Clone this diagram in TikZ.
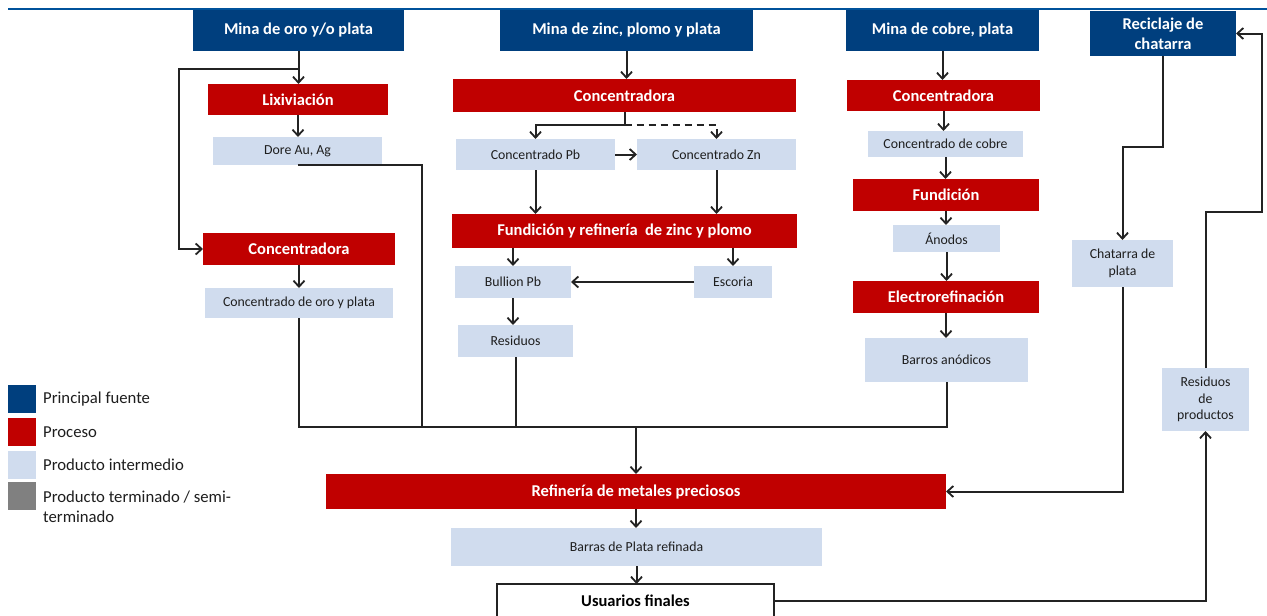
\documentclass[tikz,border=0pt]{standalone}
\usepackage{fontspec}
\setmainfont{Carlito}
\usetikzlibrary{arrows.meta}
\definecolor{cblue}{RGB}{0,63,126}
\definecolor{ctop}{RGB}{0,82,155}
\definecolor{cred}{RGB}{192,0,0}
\definecolor{clight}{RGB}{208,220,238}
\definecolor{cgray}{RGB}{128,128,128}
\definecolor{cline}{RGB}{35,35,35}
\definecolor{ctext}{RGB}{30,30,30}
\newcommand{\bfnt}{\fontsize{16.5}{20}\selectfont\bfseries}
\newcommand{\ifnt}{\fontsize{13.8}{16.8}\selectfont}
\newcommand{\lfnt}{\fontsize{16.7}{20}\selectfont}
\tikzset{
  bx/.style={anchor=north west, inner sep=0pt, outer sep=0pt, align=center},
  sz/.style 2 args={minimum width=#1pt, minimum height=#2pt},
  src/.style={bx, fill=cblue, text=white, font=\bfnt},
  prc/.style={bx, fill=cred, text=white, font=\bfnt},
  itm/.style={bx, fill=clight, text=ctext, font=\ifnt},
  fin/.style={bx, fill=white, draw=cline, line width=1.2pt, text=black, font=\bfnt},
  conn/.style={draw=cline, line width=2pt},
  arr/.style={conn, -{Straight Barb[length=6pt,width=11pt,line width=1.8pt]}},
  leg/.style={anchor=north west, inner sep=0pt, minimum width=28pt, minimum height=28pt},
  legt/.style={anchor=west, inner sep=0pt, align=left, font=\lfnt, text=ctext}
}
\begin{document}
\begin{tikzpicture}[x=1pt,y=-1pt]
\useasboundingbox (0,0) rectangle (1267,616);
\clip (0,0) rectangle (1267,616);
\fill[white] (0,0) rectangle (1267,616);
% top rule
\coordinate (tl) at (8,9);
\coordinate (tr) at (1267,9);
\draw[ctop, line width=2pt] (tl) -- (tr);

% sources
\node[src, sz={211}{41}] (m1) at (193,10) {Mina de oro y/o plata};
\node[src, sz={253}{41}] (m2) at (500,10) {Mina de zinc, plomo y plata};
\node[src, sz={193}{41}] (m3) at (846,10) {Mina de cobre, plata};
\node[src, sz={146}{45}] (rec) at (1090,11) {Reciclaje de\\chatarra};

% processes
\node[prc, sz={180}{31}] (lix) at (208,84) {Lixiviación};
\node[prc, sz={192}{32}] (c1) at (203,233) {Concentradora};
\node[prc, sz={343}{33}] (cm) at (453,79) {Concentradora};
\node[prc, sz={345}{34}] (fz) at (452,214) {Fundición y refinería \ de zinc y plomo};
\node[prc, sz={193}{31}] (cr) at (847,80) {Concentradora};
\node[prc, sz={186}{32}] (fu) at (853,179) {Fundición};
\node[prc, sz={186}{32}] (el) at (853,281) {Electrorefinación};
\node[prc, sz={620}{35}] (ref) at (326,474) {Refinería de metales preciosos};

% intermediate products
\node[itm, sz={169}{28}] (dore) at (213,137) {Dore Au, Ag};
\node[itm, sz={188}{30}] (cop) at (205,288) {Concentrado de oro y plata};
\node[itm, sz={159}{31}] (cpb) at (456,139) {Concentrado Pb};
\node[itm, sz={159}{31}] (czn) at (637,139) {Concentrado Zn};
\node[itm, sz={116}{32}] (bul) at (455,266) {Bullion Pb};
\node[itm, sz={78}{32}] (esc) at (694,266) {Escoria};
\node[itm, sz={115}{32}] (res) at (458,325) {Residuos};
\node[itm, sz={155}{26}] (cco) at (868,131) {Concentrado de cobre};
\node[itm, sz={107}{27}] (ano) at (893,225) {Ánodos};
\node[itm, sz={163}{44}] (bar) at (865,338) {Barros anódicos};
\node[itm, sz={101}{47}] (chat) at (1072,240) {Chatarra de\\plata};
\node[itm, sz={87}{63}] (rp) at (1162,368) {Residuos\\de\\productos};
\node[itm, sz={371}{38}] (bpr) at (451,528) {Barras de Plata refinada};
\node[fin, sz={277}{34}] (usu) at (497,584) {Usuarios finales};

% legend
\node[leg, fill=cblue] (l1) at (8,385) {};
\node[leg, fill=cred] (l2) at (8,418) {};
\node[leg, fill=clight] (l3) at (8,451) {};
\node[leg, fill=cgray] (l4) at (8,482) {};
\node[legt] (t1) at (43,399) {Principal fuente};
\node[legt] (t2) at (43,432) {Proceso};
\node[legt] (t3) at (43,465) {Producto intermedio};
\node[legt] (t4) at (43,507) {Producto terminado / semi-\\terminado};

% left column
\coordinate (j1) at (298.5,69);
\draw[arr] (m1.south) -- (m1.south |- lix.north);
\draw[arr] (j1) -- ++(-120,0) |- (c1.west);
\draw[arr] (lix.south) -- (lix.south |- dore.north);
\draw[arr] (c1.south) -- (c1.south |- cop.north);

% collecting bus
\coordinate (busC) at (636,427);
\coordinate (dx) at (422,427);
\draw[conn] (dore.south) -| (dx);
\draw[conn] (cop.south) -- (cop.south |- busC) -- (bar.south |- busC) -- (bar.south);
\draw[conn] (res.south) -- (res.south |- busC);
\draw[arr] (busC) -- (busC |- ref.north);

% middle column
\coordinate (sp) at (624.5,125);
\draw[arr] (m2.south) -- (m2.south |- cm.north);
\draw[conn] (cm.south) -- (sp);
\draw[arr] (sp) -| (cpb.north);
\draw[arr, dashed, dash pattern=on 7pt off 5pt] (sp) -| (czn.north);
\draw[arr] (cpb.east) -- (czn.west);
\draw[arr] (cpb.south) -- (cpb.south |- fz.north);
\draw[arr] (czn.south) -- (czn.south |- fz.north);
\draw[arr] (bul.north |- fz.south) -- (bul.north);
\draw[arr] (esc.north |- fz.south) -- (esc.north);
\draw[arr] (esc.west) -- (bul.east);
\draw[arr] (bul.south) -- (bul.south |- res.north);

% right column
\draw[arr] (m3.south) -- (m3.south |- cr.north);
\draw[arr] (cr.south) -- (cr.south |- cco.north);
\draw[arr] (cco.south) -- (cco.south |- fu.north);
\draw[arr] (fu.south) -- (fu.south |- ano.north);
\draw[arr] (ano.south) -- (ano.south |- el.north);
\draw[arr] (el.south) -- (el.south |- bar.north);

% recycling
\draw[arr] (rec.south) -- ++(0,91) -| (chat.north);
\draw[arr] (chat.south) |- (ref.east);
\draw[arr] (usu.east) -| (rp.south);
\draw[arr] (rp.north) |- ++(56,-156) |- (rec.east);

% bottom
\draw[arr] (ref.south) -- (ref.south |- bpr.north);
\draw[arr] (bpr.south) -- (bpr.south |- usu.north);
\end{tikzpicture}
\end{document}
